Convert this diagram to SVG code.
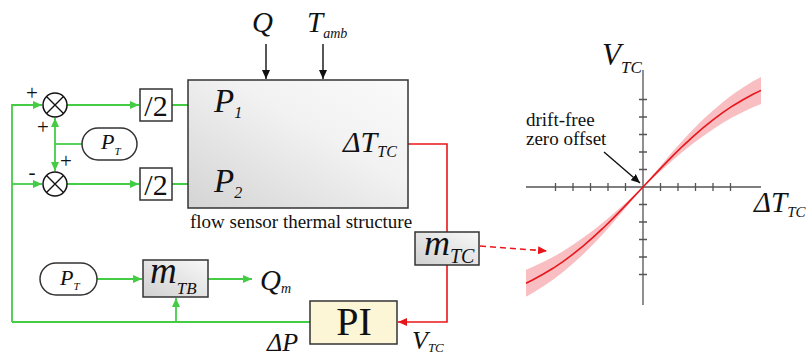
<svg xmlns="http://www.w3.org/2000/svg" width="808" height="358" viewBox="0 0 808 358">
<defs>
<linearGradient id="gbox" x1="0" y1="1" x2="1" y2="0">
<stop offset="0" stop-color="#d4d4d4"/>
<stop offset="0.6" stop-color="#f2f2f2"/>
<stop offset="1" stop-color="#fafafa"/>
</linearGradient>
<linearGradient id="gsmall" x1="0" y1="1" x2="1" y2="0">
<stop offset="0" stop-color="#d0d0d0"/>
<stop offset="1" stop-color="#f8f8f8"/>
</linearGradient>
<marker id="ag" markerWidth="9" markerHeight="8" refX="9" refY="4" orient="auto" markerUnits="userSpaceOnUse"><path d="M0,0 L9,4 L0,8 z" fill="#45cc45"/></marker>
<marker id="ar" markerWidth="9" markerHeight="8" refX="9" refY="4" orient="auto" markerUnits="userSpaceOnUse"><path d="M0,0 L9,4 L0,8 z" fill="#e8161b"/></marker>
<marker id="ak" markerWidth="9" markerHeight="8" refX="9" refY="4" orient="auto" markerUnits="userSpaceOnUse"><path d="M0,0 L9,4 L0,8 z" fill="#111"/></marker>
<marker id="ad" markerWidth="9" markerHeight="8" refX="9" refY="4" orient="auto" markerUnits="userSpaceOnUse"><path d="M0,0 L9,4 L0,8 z" fill="#777"/></marker>
</defs>
<style>
.g{fill:none;stroke:#45cc45;stroke-width:1.8}
.r{fill:none;stroke:#e8161b;stroke-width:1.6}
.k{fill:none;stroke:#111;stroke-width:1.4}
.d{fill:none;stroke:#777;stroke-width:1.5;stroke-dasharray:6 4}
.box{stroke:#333;stroke-width:1.5}
.t{font-family:"Liberation Serif","Times New Roman",serif;fill:#111}
.i{font-style:italic}
.ax{stroke:#555;stroke-width:1.3;fill:none}
</style>
<rect width="808" height="358" fill="#fff"/>

<g id="connectors">
<path class="g" d="M12,322 V105 H42" marker-end="url(#ag)"/>
<path class="g" d="M12,184 H42" marker-end="url(#ag)"/>
<path class="g" d="M67,105 H139" marker-end="url(#ag)"/>
<path class="g" d="M67,184 H139" marker-end="url(#ag)"/>
<path class="g" d="M172,105 H208" marker-end="url(#ag)"/>
<path class="g" d="M172,184 H208" marker-end="url(#ag)"/>
<path class="g" d="M82,144 H55"/>
<path class="g" d="M55,144 V118" marker-end="url(#ag)"/>
<path class="g" d="M55,144 V171" marker-end="url(#ag)"/>
<path class="g" d="M97,279 H142" marker-end="url(#ag)"/>
<path class="g" d="M208,279 H252" marker-end="url(#ag)"/>
<path class="g" d="M12,322 H310"/>
<path class="g" d="M176,322 V298" marker-end="url(#ag)"/>
<path class="k" d="M266,44 V79" marker-end="url(#ak)"/>
<path class="k" d="M323,44 V79" marker-end="url(#ak)"/>
<path class="d" d="M248,107 L338,134" marker-end="url(#ad)"/>
<path class="d" d="M248,182 L338,153" marker-end="url(#ad)"/>
<path class="r" d="M397,144 H447 V232"/>
<path class="r" d="M447,265 V322 H398" marker-end="url(#ar)"/>
<path class="r" d="M480,246 L547,251" stroke-dasharray="6 4" marker-end="url(#ar)"/>
<path class="k" d="M604,152 L640,183" marker-end="url(#ak)"/>
</g>

<g id="sum1">
<circle cx="55" cy="105" r="12" fill="#fff" stroke="#111" stroke-width="1.5"/>
<path class="k" d="M46.5,96.5 L63.5,113.5 M63.5,96.5 L46.5,113.5"/>
<text class="t" x="32" y="100" font-size="21" text-anchor="middle">+</text>
<text class="t" x="43" y="134" font-size="21" text-anchor="middle">+</text>
</g>
<g id="sum2">
<circle cx="55" cy="184" r="12" fill="#fff" stroke="#111" stroke-width="1.5"/>
<path class="k" d="M46.5,175.5 L63.5,192.5 M63.5,175.5 L46.5,192.5"/>
<text class="t" x="66" y="168" font-size="21" text-anchor="middle">+</text>
<text class="t" x="32" y="179" font-size="21" text-anchor="middle">-</text>
</g>

<g id="pt1">
<rect x="82" y="128" width="55" height="32" rx="16" fill="#fff" class="box"/>
<text class="t i" x="101" y="149" font-size="22">P<tspan font-size="11" dy="6">T</tspan></text>
</g>

<g id="div1">
<rect x="140" y="89" width="32" height="32" fill="#fff" class="box"/>
<text class="t" x="156" y="116" font-size="30" text-anchor="middle">/2</text>
</g>
<g id="div2">
<rect x="140" y="168" width="32" height="32" fill="#fff" class="box"/>
<text class="t" x="156" y="195" font-size="30" text-anchor="middle">/2</text>
</g>

<g id="thermal">
<rect x="188" y="80" width="220" height="128" fill="url(#gbox)" class="box"/>
<text class="t i" x="214" y="112" font-size="33">P<tspan font-size="16" dy="6">1</tspan></text>
<text class="t i" x="214" y="192" font-size="33">P<tspan font-size="16" dy="6">2</tspan></text>
<text class="t i" x="343" y="152" font-size="30">ΔT<tspan font-size="16" dy="5">TC</tspan></text>
<text class="t" x="190" y="228" font-size="19">flow sensor thermal structure</text>
</g>

<g id="inputs">
<text class="t i" x="252" y="32" font-size="29">Q</text>
<text class="t i" x="307" y="32" font-size="29">T<tspan font-size="14" dy="6">amb</tspan></text>
</g>

<g id="mtc">
<rect x="415" y="232" width="64" height="33" fill="url(#gsmall)" class="box"/>
<text class="t i" x="424" y="255" font-size="36">m<tspan font-size="20" dy="8">TC</tspan></text>
</g>

<g id="pt2">
<rect x="40" y="263" width="57" height="32" rx="16" fill="#fff" class="box"/>
<text class="t i" x="60" y="285" font-size="22">P<tspan font-size="11" dy="5">T</tspan></text>
</g>

<g id="mtb">
<rect x="143" y="260" width="65" height="37" fill="url(#gsmall)" class="box"/>
<text class="t i" x="150" y="283" font-size="37">m<tspan font-size="17" dy="11">TB</tspan></text>
</g>

<g id="qm">
<text class="t i" x="260" y="290" font-size="29">Q<tspan font-size="14" dy="3">m</tspan></text>
</g>

<g id="pi">
<rect x="310" y="301" width="87" height="43" fill="#fcf5d6" class="box"/>
<text class="t" x="354" y="335" font-size="40" text-anchor="middle">PI</text>
<text class="t i" x="267" y="351" font-size="26">ΔP</text>
<text class="t i" x="412" y="349" font-size="26">V<tspan font-size="13" dy="3">TC</tspan></text>
</g>

<g id="chart">
<polygon fill="#f7b3b7" fill-opacity="0.85" points="526,296.7 533,292.7 543,286.5 553,279.7 563,272.0 573,263.6 583,254.4 593,244.5 603,234.0 613,222.7 623,211.1 633,199.1 643,187 653,174.9 663,163.0 673,151.3 683,140.0 693,129.5 703,119.6 713,110.4 723,102.0 733,94.3 743,87.5 753,81.3 761,76.9 761,103.9 753,107.3 743,111.9 733,117.1 723,122.8 713,129.2 703,136.2 693,143.6 683,151.6 673,160.0 663,168.9 653,177.9 643,187 633,196.2 623,205.2 613,214.0 603,222.4 593,230.4 583,237.8 573,244.8 563,251.2 553,257.1 543,262.1 533,266.7 526,269.7"/>
<path class="ax" d="M526,187 H761 M643,70 V305"/>
<path class="ax" d="M555.5,183 v8 M573,183 v8 M590.5,183 v8 M608,183 v8 M625.5,183 v8 M660.5,183 v8 M678,183 v8 M695.5,183 v8 M713,183 v8 M730.5,183 v8 M639,99.5 h8 M639,117 h8 M639,134.5 h8 M639,152 h8 M639,169.5 h8 M639,204.5 h8 M639,222 h8 M639,239.5 h8 M639,257 h8 M639,274.5 h8"/>
<polyline fill="none" stroke="#e8161b" stroke-width="1.6" points="526,283.2 533,279.7 543,274.3 553,268.3 563,261.6 573,254.2 583,246.1 593,237.45 603,228.2 613,218.35 623,208.1 633,197.64 643,187 653,176.36 663,165.9 673,155.65 683,145.8 693,136.55 703,127.9 713,119.8 723,112.4 733,105.7 743,99.7 753,94.3 761,90.4"/>
<text class="t i" x="602" y="65" font-size="31">V<tspan font-size="17" dy="8">TC</tspan></text>
<text class="t i" x="754" y="212" font-size="29">ΔT<tspan font-size="15" dy="5">TC</tspan></text>
<text class="t" x="526" y="126" font-size="19">drift-free</text>
<text class="t" x="526" y="145" font-size="19">zero offset</text>
</g>
</svg>
